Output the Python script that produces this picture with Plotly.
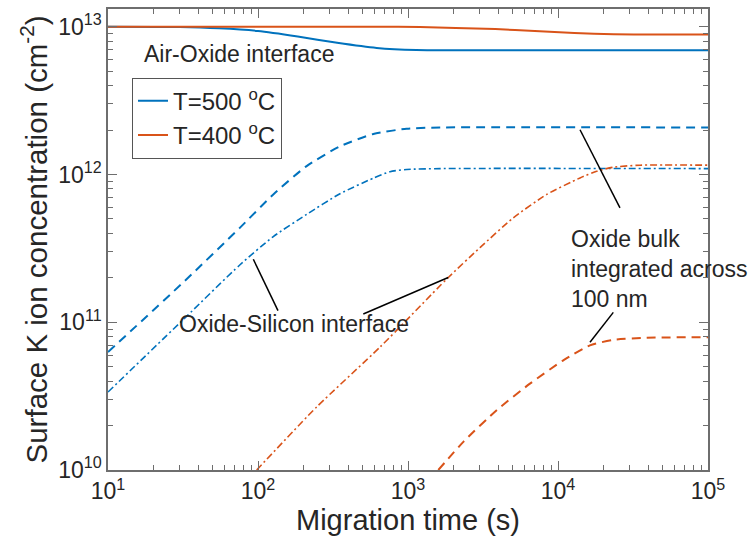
import plotly.graph_objects as go

# Migration time (s) and surface K ion concentration (cm^-2)
# Air-Oxide interface
t_air_500 = [10, 30, 55, 100, 184, 337, 618, 1135, 3000, 1e5]
c_air_500 = [1.0e13, 9.95e12, 9.75e12, 9.35e12, 8.59e12, 7.78e12, 7.18e12, 6.95e12, 6.92e12, 6.92e12]
t_air_400 = [10, 300, 618, 1200, 2080, 3820, 7000, 12850, 23550, 43250, 1e5]
c_air_400 = [1.0e13, 1.0e13, 1.0e13, 9.96e12, 9.82e12, 9.64e12, 9.35e12, 9.06e12, 8.89e12, 8.85e12, 8.85e12]

# Oxide bulk integrated across 100 nm
t_bulk_500 = [10, 32.6, 75.9, 126.5, 211, 352, 587, 979, 1633, 1e5]
c_bulk_500 = [6.28e10, 1.91e11, 4.37e11, 7.33e11, 1.14e12, 1.55e12, 1.88e12, 2.04e12, 2.08e12, 2.08e12]
t_bulk_400 = [1592, 2339, 3899, 6501, 10840, 16330, 23390, 38990, 1e5]
c_bulk_400 = [1.0e10, 1.55e10, 2.54e10, 3.84e10, 5.52e10, 6.97e10, 7.60e10, 7.85e10, 7.93e10]

# Oxide-Silicon interface
t_si_500 = [10, 32.6, 75.9, 126.5, 211, 352, 587, 759, 979, 1633, 1e5]
c_si_500 = [3.37e10, 1.07e11, 2.45e11, 3.80e11, 5.37e11, 7.41e11, 9.44e11, 1.045e12, 1.081e12, 1.096e12, 1.096e12]
t_si_400 = [98, 246, 650, 1811, 3020, 5035, 8414, 14030, 18110, 23390, 35240, 1e5]
c_si_400 = [1.0e10, 2.67e10, 6.78e10, 1.96e11, 3.20e11, 5.09e11, 7.33e11, 9.48e11, 1.052e12, 1.12e12, 1.156e12, 1.156e12]

x_tickvals = [1e1, 1e2, 1e3, 1e4, 1e5]
x_ticktext = ["10<sup>1</sup>", "10<sup>2</sup>", "10<sup>3</sup>", "10<sup>4</sup>", "10<sup>5</sup>"]
y_tickvals = [1e10, 1e11, 1e12, 1e13]
y_ticktext = ["10<sup>10</sup>", "10<sup>11</sup>", "10<sup>12</sup>", "10<sup>13</sup>"]

BLUE = "#0072BD"
ORANGE = "#D95319"
FONT = "Liberation Sans, Arial, sans-serif"
TXT = "#262626"
AXC = "#6e6e6e"

DASH = "9px,6px"
DASHDOT = "7px,3px,2px,3px"

fig = go.Figure()

def add(t, c, color, dash, width, name=None, legend=False):
    fig.add_trace(go.Scatter(
        x=t, y=c, mode="lines", name=name, showlegend=legend,
        line=dict(color=color, width=width, dash=dash, shape="spline", smoothing=0.6),
        hoverinfo="skip",
    ))

add(t_air_500, c_air_500, BLUE, "solid", 2, "T=500 <sup>o</sup>C", True)
add(t_air_400, c_air_400, ORANGE, "solid", 2, "T=400 <sup>o</sup>C", True)
add(t_bulk_500, c_bulk_500, BLUE, DASH, 2)
add(t_bulk_400, c_bulk_400, ORANGE, DASH, 2)
add(t_si_500, c_si_500, BLUE, DASHDOT, 1.6)
add(t_si_400, c_si_400, ORANGE, DASHDOT, 1.6)

minor_x = [m * 10 ** k for k in range(1, 5) for m in range(2, 10)]
minor_y = [m * 10 ** k for k in range(10, 13) for m in range(2, 10)]

axis_common = dict(
    type="log", showgrid=False, zeroline=False,
    showline=True, linecolor=AXC, linewidth=1.5, mirror="ticks",
    ticks="inside", ticklen=9, tickwidth=1, tickcolor=AXC,
    tickfont=dict(family=FONT, size=23, color=TXT),
)

fig.update_xaxes(
    **axis_common, range=[1, 5],
    tickmode="array", tickvals=x_tickvals, ticktext=x_ticktext,
    minor=dict(tickmode="array", tickvals=minor_x, ticks="inside", ticklen=5, tickcolor=AXC, showgrid=False),
    title=dict(text="Migration time (s)", font=dict(family=FONT, size=29, color=TXT), standoff=6),
)
fig.update_yaxes(
    **axis_common, range=[10, 13.12],
    tickmode="array", tickvals=y_tickvals, ticktext=y_ticktext,
    minor=dict(tickmode="array", tickvals=minor_y, ticks="inside", ticklen=5, tickcolor=AXC, showgrid=False),
    title=dict(text="Surface K ion concentration (cm<sup>-2</sup>)", font=dict(family=FONT, size=29.5, color=TXT), standoff=2),
)

ann_font = dict(family=FONT, size=23, color=TXT)
fig.add_annotation(text="Air-Oxide interface", xref="paper", yref="paper", x=0.0567, y=0.903,
                   xanchor="left", yanchor="middle", showarrow=False, font=ann_font)
fig.add_annotation(text="Oxide-Silicon interface", xref="paper", yref="paper", x=0.1145, y=0.3168,
                   xanchor="left", yanchor="middle", showarrow=False, font=ann_font)
fig.add_annotation(text="Oxide bulk<br>integrated across<br>100 nm", xref="paper", yref="paper",
                   x=0.7683, y=0.437, xanchor="left", yanchor="middle", align="left",
                   showarrow=False, font=ann_font)

# leader lines from labels to curves
leaders = [
    (0.2422, 0.4572, 0.2833, 0.3456),
    (0.4255, 0.3384, 0.5670, 0.4175),
    (0.7867, 0.7380, 0.8533, 0.5687),
    (0.8422, 0.3419, 0.8033, 0.2771),
]
for x0, y0, x1, y1 in leaders:
    fig.add_shape(type="line", xref="paper", yref="paper", x0=x0, y0=y0, x1=x1, y1=y1,
                  line=dict(color="black", width=1.5))

fig.update_layout(
    width=749, height=552,
    margin=dict(l=108, r=41, t=7, b=82),
    paper_bgcolor="white", plot_bgcolor="white",
    font=dict(family=FONT, color=TXT),
    legend=dict(
        x=0.04, y=0.851, xanchor="left", yanchor="top",
        bgcolor="white", bordercolor="#555555", borderwidth=1,
        font=dict(family=FONT, size=24, color=TXT),
        itemwidth=30, tracegroupgap=0, entrywidth=118,
    ),
)

fig.write_html("out.html")
